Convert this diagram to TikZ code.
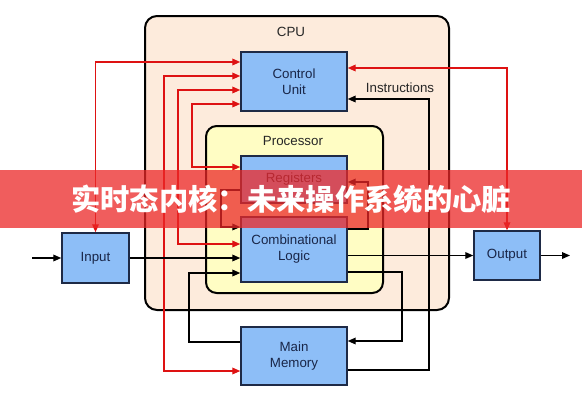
\documentclass[tikz,border=0pt]{standalone}
\usepackage{fontspec}
\setmainfont{Liberation Sans}
\newfontfamily\cjk{Noto Sans CJK SC}
\usetikzlibrary{arrows.meta}
\definecolor{boxfill}{RGB}{141,190,247}
\definecolor{boxline}{RGB}{30,42,70}
\definecolor{cpufill}{RGB}{253,235,220}
\definecolor{procfill}{RGB}{255,253,196}
\definecolor{sigred}{RGB}{222,18,18}
\definecolor{bannerred}{RGB}{236,40,40}
\definecolor{txtdark}{RGB}{25,38,72}
\begin{document}
\begin{tikzpicture}[x=0.75pt,y=-0.75pt,
  unitbox/.style={draw=boxline,line width=1.1pt,fill=boxfill,text=txtdark,
    align=center,font=\fontsize{10}{12}\selectfont,inner sep=0pt},
  cont/.style={draw=black,line width=1.5pt,rounded corners=9pt},
  blk/.style={draw=black,line width=1pt,-{Triangle[length=6pt,width=5pt]}},
  blkn/.style={draw=black,line width=1pt},
  sig/.style={draw=sigred,line width=1pt,{Triangle[length=6pt,width=5pt]}-{Triangle[length=6pt,width=5pt]}},
  lbl/.style={font=\fontsize{10}{12}\selectfont,text=black!85}]
\useasboundingbox (0,0) rectangle (582,400);
\fill[white] (0,0) rectangle (582,400);
% containers
\draw[cont,fill=cpufill] (145,16) rectangle (449,310);
\node[lbl] (cpulbl) at (291,32) {CPU};
\draw[cont,fill=procfill,rounded corners=8pt] (206,126) rectangle (383,293);
\node[lbl] (proclbl) at (293,141) {Processor};
% boxes
\node[unitbox,minimum width=79.5pt,minimum height=44.25pt] (cu) at (294,81.5) {Control\\Unit};
\node[unitbox,minimum width=79.5pt,minimum height=35.25pt] (reg) at (294,179.5) {Registers};
\node[unitbox,minimum width=79.5pt,minimum height=48.75pt] (cl) at (294,249.5) {Combinational\\Logic};
\node[unitbox,minimum width=79.5pt,minimum height=43.5pt] (mm) at (294,356) {Main\\Memory};
\node[unitbox,minimum width=50.25pt,minimum height=37.5pt] (in) at (95.5,258) {Input};
\node[unitbox,minimum width=49.5pt,minimum height=36.75pt] (out) at (507,255.5) {Output};
% helper coordinates
\coordinate (s1) at (95.5,62);
\coordinate (s2) at (164,76);
\coordinate (s2b) at (164,371);
\coordinate (s3) at (178,90);
\coordinate (s3b) at (178,244);
\coordinate (s4) at (192,104);
\coordinate (s4b) at (192,167);
\coordinate (s5) at (507,68);
\coordinate (inA) at (32,258);
\coordinate (outA) at (570,255.5);
\coordinate (l1) at (221,190);
\coordinate (l1b) at (221,227);
\coordinate (r1) at (368,229);
\coordinate (r1b) at (368,182);
\coordinate (m1) at (402,272);
\coordinate (m1b) at (402,341);
\coordinate (i1) at (429,370);
\coordinate (i1b) at (429,99);
\coordinate (d1) at (189,342);
\coordinate (d1b) at (189,273);
% red control signals
\draw[sig] (in.north) -- (s1) -- (cu.west |- s1);
\draw[sig] (mm.west |- s2b) -- (s2b) -- (s2) -- (cu.west |- s2);
\draw[sig] (cl.west |- s3b) -- (s3b) -- (s3) -- (cu.west |- s3);
\draw[sig] (reg.west |- s4b) -- (s4b) -- (s4) -- (cu.west |- s4);
\draw[sig] (out.north) -- (s5) -- (cu.east |- s5);
% black data paths
\draw[blk] (inA) -- (in.west);
\draw[blk] (in.east) -- (cl.west |- in.east);
\draw[blk] (reg.west |- l1) -- (l1) -- (l1b) -- (cl.west |- l1b);
\draw[blk] (cl.east |- r1) -- (r1) -- (r1b) -- (reg.east |- r1b);
\draw[blk] (cl.east |- out.west) -- (out.west);
\draw[blk] (out.east) -- (outA);
\draw[blk] (cl.east |- m1) -- (m1) -- (m1b) -- (mm.east |- m1b);
\draw[blk] (mm.east |- i1) -- (i1) -- (i1b) -- (cu.east |- i1b);
\draw[blk] (mm.west |- d1) -- (d1) -- (d1b) -- (cl.west |- d1b);
\node[lbl] (instr) at (400,88) {Instructions};
% banner
\fill[bannerred,fill opacity=0.75] (0,170) rectangle (582,228);
\node[text=white,font={\cjk\bfseries\fontsize{22}{24}\selectfont}] (title) at (291,199) {实时态内核：未来操作系统的心脏};
\end{tikzpicture}
\end{document}
